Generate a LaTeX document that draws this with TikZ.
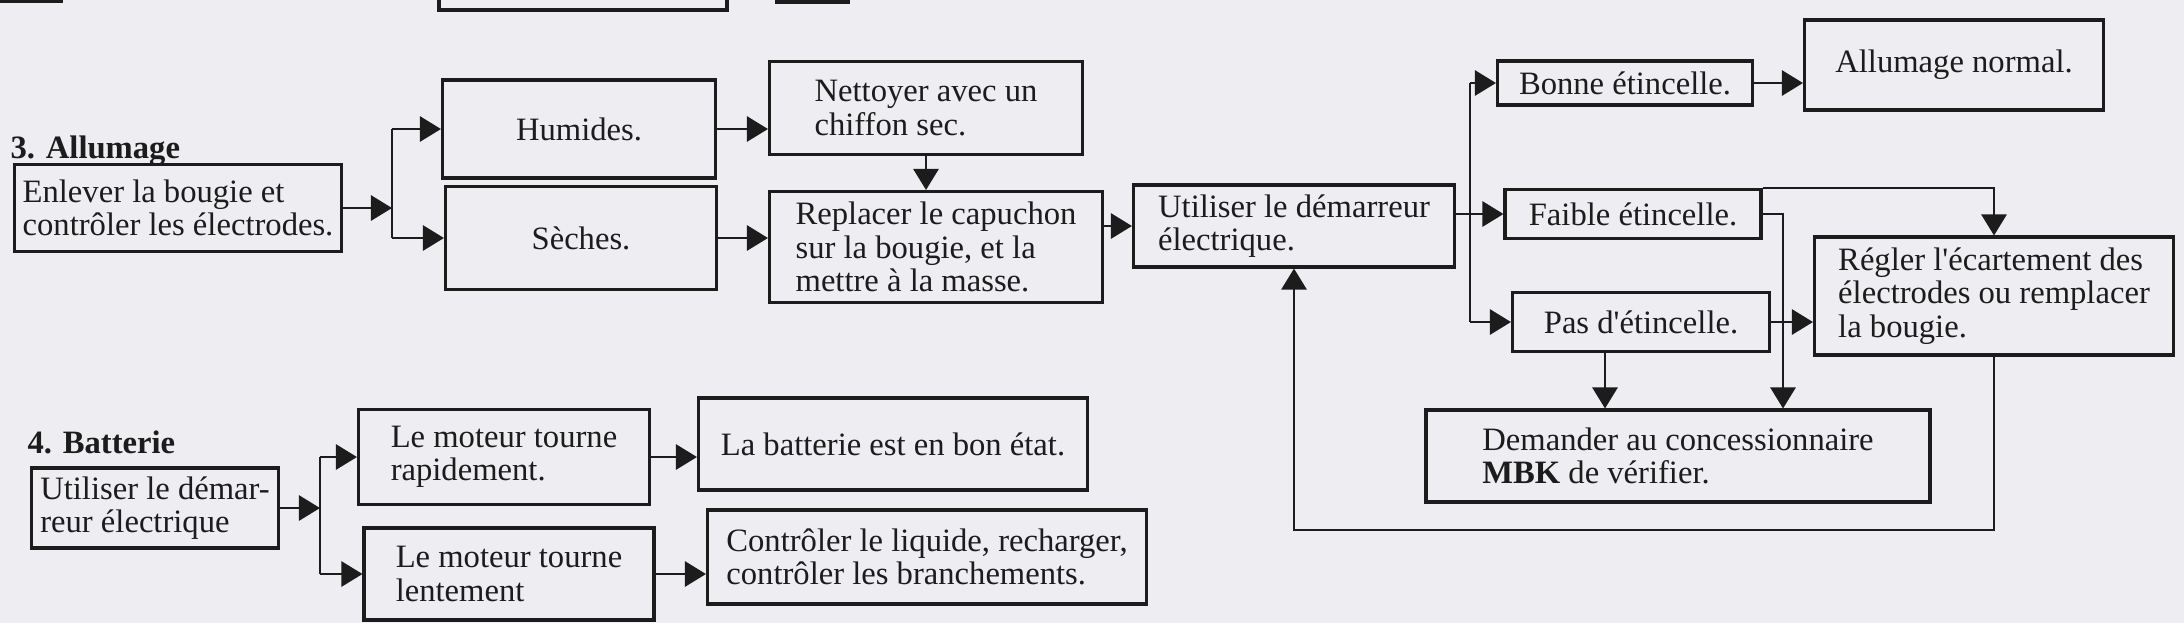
\documentclass[tikz,border=0pt]{standalone}
\usepackage{fontspec}
\setmainfont{Liberation Serif}
\usetikzlibrary{arrows.meta}
\definecolor{papier}{RGB}{237,237,242}
\definecolor{encre}{RGB}{28,28,28}

\begin{document}
\begin{tikzpicture}[x=0.0125cm,y=-0.0125cm,
        boite/.style={draw=encre,line width=1.1pt,inner sep=2pt,align=left,text=encre,font=\fontsize{11.6}{11.8}\selectfont},
        taille/.style 2 args={minimum width=#1*0.0125cm,minimum height=#2*0.0125cm},
        titre/.style={anchor=base west,inner sep=0pt,text=encre,font=\fontsize{11.6}{12}\selectfont\bfseries},
        bord/.style={draw=encre,line width=1.1pt},
        trait/.style={draw=encre,line width=0.75pt},
        fleche/.style={trait,-{Triangle[length=7.5pt,width=9pt]}}]
        %\draw[step=100] (0,0) grid (2184,623);
        \fill[papier] (0,0) rectangle (2184,623);
        \useasboundingbox (0,0) rectangle (2184,623);
        % bouts de cadres coupes en haut
        \draw[bord] (0,1) -- (63,1);
        \draw[bord] (439,0) |- (727,10) -- (727,0);
        \draw[bord] (777,0) |- (850,2);

        % 3. Allumage
        \node[titre] at (10,158) {3. Allumage};
        \node[boite,taille={327}{87}] (enlever) at (178,208) {Enlever la bougie et\\contrôler les électrodes.};
        \node[boite,taille={273}{98}] (humides) at (579,129) {Humides.};
        \node[boite,taille={271}{103}] (seches) at (581,238) {Sèches.};
        \node[boite,taille={313}{93}] (nettoyer) at (926,108) {Nettoyer avec un\\chiffon sec.};
        \node[boite,taille={333}{111}] (replacer) at (936,247) {Replacer le capuchon\\sur la bougie, et la\\mettre à la masse.};
        \node[boite,taille={321}{82}] (demarreur) at (1294,226) {Utiliser le démarreur\\électrique.};
        \node[boite,taille={255}{44}] (bonne) at (1625,83) {Bonne étincelle.};
        \node[boite,taille={256}{49}] (faible) at (1633,214) {Faible étincelle.};
        \node[boite,taille={257}{59}] (pas) at (1641,322) {Pas d\textquotesingle étincelle.};
        \node[boite,taille={299}{90}] (normal) at (1954,65) {Allumage normal.};
        \node[boite,taille={359}{118}] (regler) at (1994,296) {Régler l\textquotesingle écartement des\\électrodes ou remplacer\\la bougie.};
        \node[boite,taille={504}{92}] (demander) at (1678,456) {Demander au concessionnaire\\\textbf{MBK} de vérifier.};

        \coordinate (b1) at (392,0);
        \coordinate (b2) at (1470,0);
        \coordinate (c1) at (1783,0);
        \coordinate (c2) at (1605,0);
        \coordinate (bas) at (0,530);

        \draw[fleche] (enlever.east) -- (enlever.east -| b1);
        \draw[trait] (humides.west -| b1) -- (seches.west -| b1);
        \draw[fleche] (humides.west -| b1) -- (humides.west);
        \draw[fleche] (seches.west -| b1) -- (seches.west);
        \draw[fleche] (humides.east) -- (humides.east -| nettoyer.west);
        \draw[fleche] (seches.east) -- (seches.east -| replacer.west);
        \draw[fleche] (nettoyer.south) -- (nettoyer.south |- replacer.north);
        \draw[fleche] (replacer.east |- demarreur.west) -- (demarreur.west);

        \draw[trait] (demarreur.east |- faible.west) -- (b2 |- faible.west);
        \draw[trait] (bonne.west -| b2) -- (pas.west -| b2);
        \draw[fleche] (bonne.west -| b2) -- (bonne.west);
        \draw[fleche] (faible.west -| b2) -- (faible.west);
        \draw[fleche] (pas.west -| b2) -- (pas.west);
        \draw[fleche] (bonne.east) -- (bonne.east -| normal.west);
        \draw[fleche] (faible.north east) -| (regler.north);
        \draw[fleche] (faible.east) -- (faible.east -| c1) -- (c1 |- demander.north);
        \draw[fleche] (pas.east) -- (pas.east -| regler.west);
        \draw[fleche] (pas.south -| c2) -- (c2 |- demander.north);
        \draw[fleche] (regler.south) -- (regler.south |- bas) -| (demarreur.south);

        % 4. Batterie
        \node[titre] at (27,453) {4. Batterie};
        \node[boite,taille={247}{80}] (batdem) at (155,508) {Utiliser le démar-\\reur électrique};
        \node[boite,taille={291}{95}] (rapide) at (504,457) {Le moteur tourne\\rapidement.};
        \node[boite,taille={290}{92}] (lent) at (509,574) {Le moteur tourne\\lentement};
        \node[boite,taille={389}{92}] (bonetat) at (893,444) {La batterie est en bon état.};
        \node[boite,taille={439}{94}] (liquide) at (927,557) {Contrôler le liquide, recharger,\\contrôler les branchements.};

        \coordinate (b3) at (320,0);
        \draw[fleche] (batdem.east) -- (batdem.east -| b3);
        \draw[trait] (rapide.west -| b3) -- (lent.west -| b3);
        \draw[fleche] (rapide.west -| b3) -- (rapide.west);
        \draw[fleche] (lent.west -| b3) -- (lent.west);
        \draw[fleche] (rapide.east) -- (rapide.east -| bonetat.west);
        \draw[fleche] (lent.east) -- (lent.east -| liquide.west);
    \end{tikzpicture}
\end{document}
